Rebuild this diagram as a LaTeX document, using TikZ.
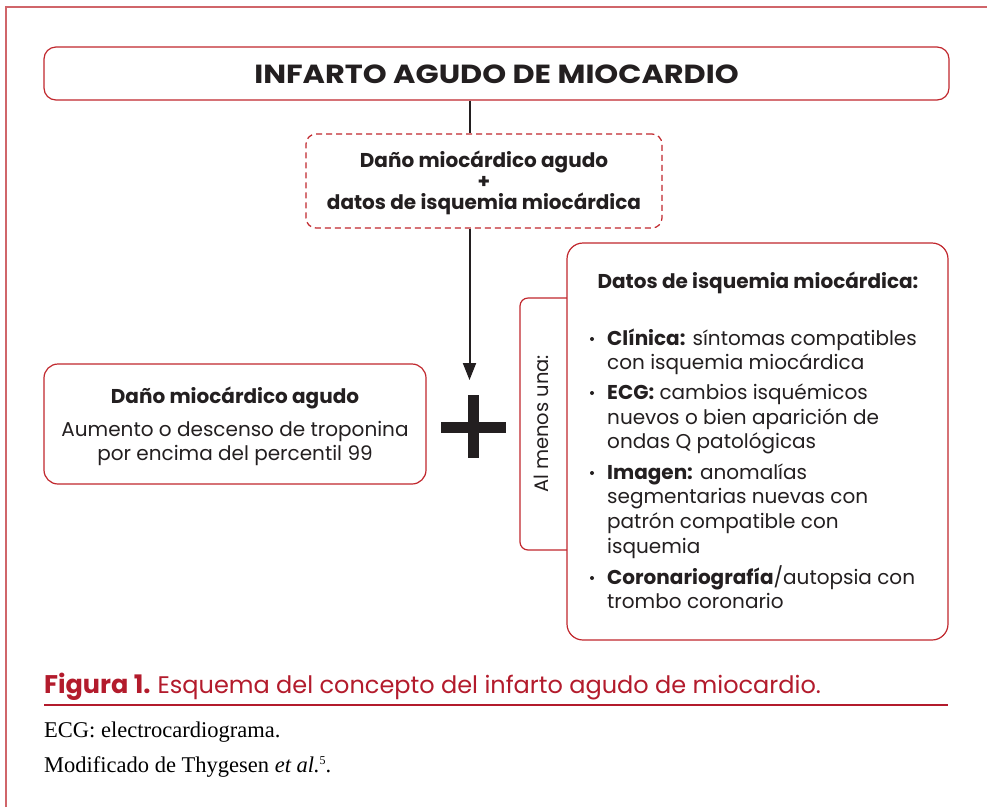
\documentclass[tikz,border=0pt]{standalone}
\usepackage{fontspec}
\setmainfont{Poppins}
\newfontfamily\titlefont[FakeStretch=1.16]{Poppins}
\newfontfamily\notefont{Liberation Serif}
\usetikzlibrary{arrows.meta}
\definecolor{frame}{HTML}{C1272D}
\definecolor{outer}{HTML}{D0656A}
\definecolor{ink}{HTML}{231F20}
\definecolor{capred}{HTML}{B31B2C}
\begin{document}
\begin{tikzpicture}[x=1pt,y=-1pt,
  box/.style={draw=frame, line width=1.2pt, rounded corners=12pt, fill=white, inner sep=0pt},
  txt/.style={inner sep=0pt, text=ink},
  bigbold/.style={font=\titlefont\bfseries\fontsize{26.2}{30}\selectfont},
  midbold/.style={font=\bfseries\fontsize{20}{24}\selectfont},
  body/.style={font=\fontsize{20}{24}\selectfont},
  bodybold/.style={font=\bfseries\fontsize{20}{24}\selectfont},
  conn/.style={draw=ink, line width=2pt},
  note/.style={inner sep=0pt, text=black, font=\notefont\fontsize{22.5}{26}\selectfont}]
\useasboundingbox (0,0) rectangle (987,807);
\fill[white] (0,0) rectangle (987,807);
\draw[outer, line width=1.6pt] (6,807) -- (6,7) -- (987,7);

% title
\node[box, minimum width=905pt, minimum height=53pt] (title) at (496.5,73.5) {};
\node[txt, anchor=base, bigbold] (titletext) at (496.5,83) {INFARTO AGUDO DE MIOCARDIO};

% dashed box
\node[box, dash pattern=on 6pt off 4pt, rounded corners=10pt, minimum width=356pt, minimum height=94pt] (dano) at (484,181) {};
\node[txt, anchor=base, midbold] (d1) at (484,167) {Daño miocárdico agudo};
\node[txt, anchor=base, midbold] (d2) at (484,188) {+};
\node[txt, anchor=base, midbold] (d3) at (484,209) {datos de isquemia miocárdica};

% connectors
\coordinate (axis) at (469.5,0);
\coordinate (tip) at (469.5,380);
\draw[conn] (axis |- title.south) -- (axis |- dano.north);
\draw[conn, -{Triangle[width=13pt,length=17pt]}] (axis |- dano.south) -- (tip);

% plus
\fill[ink] (441,422) rectangle (506,433);
\fill[ink] (468,395) rectangle (479,458);

% left box
\node[box, rounded corners=14pt, minimum width=382pt, minimum height=120pt] (left) at (235,424) {};
\node[txt, anchor=base, bodybold] (l1) at (235,403) {Daño miocárdico agudo};
\node[txt, anchor=base, body] (l2) at (235,436) {Aumento o descenso de troponina};
\node[txt, anchor=base, body] (l3) at (235,460) {por encima del percentil 99};

% tab
\draw[frame, line width=1.2pt, rounded corners=8pt, fill=white] (590,298) -- (520,298) -- (520,550) -- (590,550);
\node[txt, rotate=90, anchor=base, font=\fontsize{19.5}{24}\selectfont] (almenos) at (548,424) {Al menos una:};

% right box
\node[box, rounded corners=16pt, minimum width=381pt, minimum height=397pt] (datos) at (757.5,441.5) {};
\node[txt, anchor=base, midbold] (dt) at (758,288) {Datos de isquemia miocárdica:};
\foreach \yy/\tt [count=\i] in {
  345/{\textbf{Clínica:} síntomas compatibles},
  369/{con isquemia miocárdica},
  399/{\textbf{ECG:} cambios isquémicos},
  424/{nuevos o bien aparición de},
  448/{ondas Q patológicas},
  479/{\textbf{Imagen:} anomalías},
  503/{segmentarias nuevas con},
  528/{patrón compatible con},
  553/{isquemia},
  584/{\textbf{Coronariografía}/autopsia con},
  608/{trombo coronario}}
  \node[txt, anchor=base west, body] (r\i) at (607,\yy) {\tt};
\foreach \yy [count=\i] in {345,399,479,584}
  \fill[ink] (592,\yy-6) circle (2pt);

% caption
\node[inner sep=0pt, anchor=base west, text=capred, font=\fontsize{24}{28}\selectfont] (cap) at (44,693) {{\bfseries\fontsize{25.5}{28}\selectfont Figura 1.}\hspace{7pt}Esquema del concepto del infarto agudo de miocardio.};
\draw[capred, line width=1.3pt] (44,705) -- (948,705);
\node[note, anchor=base west] (n1) at (44,737) {ECG: electrocardiograma.};
\node[note, anchor=base west] (n2) at (44,772) {Modificado de Thygesen \textit{et al.}\raisebox{8pt}{\fontsize{12}{12}\selectfont 5}.};
\end{tikzpicture}
\end{document}
